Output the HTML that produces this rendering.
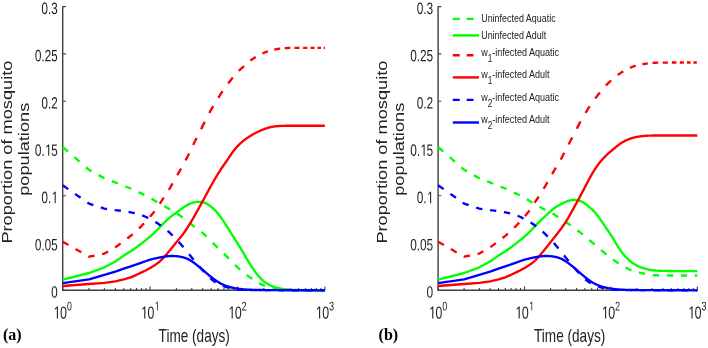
<!DOCTYPE html>
<html><head><meta charset="utf-8"><title>Mosquito population proportions</title>
<style>html,body{margin:0;padding:0;background:#fff;width:708px;height:348px;overflow:hidden}svg{display:block;will-change:transform;filter:blur(0.35px)}</style>
</head><body>
<svg width="708" height="348" viewBox="0 0 708 348">
<rect width="708" height="348" fill="#ffffff"/>
<defs><path id="g0" d="M1059 705Q1059 352 934.5 166.0Q810 -20 567 -20Q324 -20 202.0 165.0Q80 350 80 705Q80 1068 198.5 1249.0Q317 1430 573 1430Q822 1430 940.5 1247.0Q1059 1064 1059 705ZM876 705Q876 1010 805.5 1147.0Q735 1284 573 1284Q407 1284 334.5 1149.0Q262 1014 262 705Q262 405 335.5 266.0Q409 127 569 127Q728 127 802.0 269.0Q876 411 876 705Z"/><path id="g1" d="M615 0V1237L297 1010V1180L630 1409H796V0Z"/><path id="g2" d="M103 0V127Q154 244 227.5 333.5Q301 423 382.0 495.5Q463 568 542.5 630.0Q622 692 686.0 754.0Q750 816 789.5 884.0Q829 952 829 1038Q829 1154 761.0 1218.0Q693 1282 572 1282Q457 1282 382.5 1219.5Q308 1157 295 1044L111 1061Q131 1230 254.5 1330.0Q378 1430 572 1430Q785 1430 899.5 1329.5Q1014 1229 1014 1044Q1014 962 976.5 881.0Q939 800 865.0 719.0Q791 638 582 468Q467 374 399.0 298.5Q331 223 301 153H1036V0Z"/><path id="g3" d="M1049 389Q1049 194 925.0 87.0Q801 -20 571 -20Q357 -20 229.5 76.5Q102 173 78 362L264 379Q300 129 571 129Q707 129 784.5 196.0Q862 263 862 395Q862 510 773.5 574.5Q685 639 518 639H416V795H514Q662 795 743.5 859.5Q825 924 825 1038Q825 1151 758.5 1216.5Q692 1282 561 1282Q442 1282 368.5 1221.0Q295 1160 283 1049L102 1063Q122 1236 245.5 1333.0Q369 1430 563 1430Q775 1430 892.5 1331.5Q1010 1233 1010 1057Q1010 922 934.5 837.5Q859 753 715 723V719Q873 702 961.0 613.0Q1049 524 1049 389Z"/><path id="g5" d="M1053 459Q1053 236 920.5 108.0Q788 -20 553 -20Q356 -20 235.0 66.0Q114 152 82 315L264 336Q321 127 557 127Q702 127 784.0 214.5Q866 302 866 455Q866 588 783.5 670.0Q701 752 561 752Q488 752 425.0 729.0Q362 706 299 651H123L170 1409H971V1256H334L307 809Q424 899 598 899Q806 899 929.5 777.0Q1053 655 1053 459Z"/><path id="gd" d="M187 0V219H382V0Z"/></defs>
<g font-family="Liberation Sans, sans-serif" fill="#222222">
<path d="M62.7,6.32 L62.7,290.3 L324.90,290.3" fill="none" stroke="#404040" stroke-width="1.4"/>
<path d="M62.7,290.30 h3.2 M62.7,243.02 h3.2 M62.7,195.74 h3.2 M62.7,148.46 h3.2 M62.7,101.18 h3.2 M62.7,53.90 h3.2 M62.7,6.62 h3.2 M62.70,290.3 v-3.8 M150.10,290.3 v-3.8 M237.50,290.3 v-3.8 M324.90,290.3 v-3.8 M89.01,290.3 v-2.2 M104.40,290.3 v-2.2 M115.32,290.3 v-2.2 M123.79,290.3 v-2.2 M130.71,290.3 v-2.2 M136.56,290.3 v-2.2 M141.63,290.3 v-2.2 M146.10,290.3 v-2.2 M176.41,290.3 v-2.2 M191.80,290.3 v-2.2 M202.72,290.3 v-2.2 M211.19,290.3 v-2.2 M218.11,290.3 v-2.2 M223.96,290.3 v-2.2 M229.03,290.3 v-2.2 M233.50,290.3 v-2.2 M263.81,290.3 v-2.2 M279.20,290.3 v-2.2 M290.12,290.3 v-2.2 M298.59,290.3 v-2.2 M305.51,290.3 v-2.2 M311.36,290.3 v-2.2 M316.43,290.3 v-2.2 M320.90,290.3 v-2.2" fill="none" stroke="#404040" stroke-width="1.1"/>
<path d="M438.1,6.32 L438.1,290.3 L697.30,290.3" fill="none" stroke="#404040" stroke-width="1.4"/>
<path d="M438.1,290.30 h3.2 M438.1,243.02 h3.2 M438.1,195.74 h3.2 M438.1,148.46 h3.2 M438.1,101.18 h3.2 M438.1,53.90 h3.2 M438.1,6.62 h3.2 M438.10,290.3 v-3.8 M524.50,290.3 v-3.8 M610.90,290.3 v-3.8 M697.30,290.3 v-3.8 M464.11,290.3 v-2.2 M479.32,290.3 v-2.2 M490.12,290.3 v-2.2 M498.49,290.3 v-2.2 M505.33,290.3 v-2.2 M511.12,290.3 v-2.2 M516.13,290.3 v-2.2 M520.55,290.3 v-2.2 M550.51,290.3 v-2.2 M565.72,290.3 v-2.2 M576.52,290.3 v-2.2 M584.89,290.3 v-2.2 M591.73,290.3 v-2.2 M597.52,290.3 v-2.2 M602.53,290.3 v-2.2 M606.95,290.3 v-2.2 M636.91,290.3 v-2.2 M652.12,290.3 v-2.2 M662.92,290.3 v-2.2 M671.29,290.3 v-2.2 M678.13,290.3 v-2.2 M683.92,290.3 v-2.2 M688.93,290.3 v-2.2 M693.35,290.3 v-2.2" fill="none" stroke="#404040" stroke-width="1.1"/>
<path d="M62.70,147.00 L67.96,151.55 M74.38,157.12 L79.63,161.67 M86.06,167.24 L89.01,169.80 L91.55,171.20 M98.64,175.12 L104.40,178.30 L104.45,178.32 M111.84,181.10 L115.32,182.40 L117.87,183.48 M125.21,186.51 L130.71,188.50 L131.26,188.75 M138.51,192.12 L141.63,193.60 L144.44,194.92 M151.57,198.69 L151.60,198.70 L152.10,199.01 L152.60,199.33 L153.10,199.64 L153.60,199.96 L154.10,200.27 L154.60,200.58 L155.10,200.89 L155.60,201.19 L156.10,201.49 L156.60,201.79 L157.10,202.08 L157.28,202.18 M164.36,206.14 L164.60,206.27 L165.10,206.56 L165.60,206.84 L166.10,207.13 L166.60,207.41 L167.10,207.70 L167.60,207.99 L168.10,208.29 L168.60,208.58 L169.10,208.88 L169.60,209.17 L170.10,209.47 L170.11,209.48 M177.09,213.74 L177.10,213.74 L177.60,214.06 L178.10,214.38 L178.60,214.71 L179.10,215.04 L179.60,215.37 L180.10,215.71 L180.60,216.05 L181.10,216.39 L181.60,216.74 L182.10,217.10 L182.60,217.46 L182.69,217.52 M189.30,222.69 L189.60,222.93 L190.10,223.34 L190.60,223.74 L191.10,224.15 L191.60,224.55 L192.10,224.96 L192.60,225.36 L193.10,225.75 L193.60,226.15 L194.10,226.54 L194.60,226.93 L194.68,226.99 M201.38,231.95 L201.60,232.12 L202.10,232.52 L202.60,232.93 L203.10,233.35 L203.60,233.78 L204.10,234.22 L204.60,234.68 L205.10,235.14 L205.60,235.61 L206.10,236.09 L206.60,236.58 M212.69,242.75 L213.10,243.16 L213.60,243.66 L214.10,244.16 L214.60,244.66 L215.10,245.15 L215.60,245.65 L216.10,246.14 L216.60,246.63 L217.10,247.11 L217.60,247.60 L217.72,247.72 M223.93,253.70 L224.10,253.87 L224.60,254.36 L225.10,254.86 L225.60,255.36 L226.10,255.87 L226.60,256.38 L227.10,256.89 L227.60,257.41 L228.10,257.93 L228.60,258.45 L228.90,258.77 M234.99,264.96 L235.10,265.06 L235.60,265.54 L236.10,266.00 L236.60,266.46 L237.10,266.91 L237.60,267.36 L238.10,267.80 L238.60,268.23 L239.10,268.66 L239.60,269.09 L240.10,269.52 L240.20,269.60 M246.72,274.97 L247.10,275.27 L247.60,275.64 L248.10,276.02 L248.60,276.38 L249.10,276.74 L249.60,277.09 L250.10,277.44 L250.60,277.78 L251.10,278.12 L251.60,278.46 L252.10,278.79 L252.26,278.89 M259.20,283.24 L259.60,283.45 L260.10,283.72 L260.60,283.97 L261.10,284.22 L261.60,284.45 L262.10,284.68 L262.60,284.90 L263.10,285.11 L263.60,285.32 L264.10,285.51 L264.60,285.71 L265.10,285.89 L265.15,285.91 M272.65,288.16 L273.10,288.26 L273.60,288.37 L274.10,288.46 L274.60,288.56 L275.10,288.65 L275.60,288.73 L276.10,288.81 L276.60,288.88 L277.10,288.95 L277.60,289.02 L278.10,289.08 L278.60,289.14 L278.89,289.17 M286.57,289.77 L286.60,289.77 L287.10,289.80 L287.60,289.82 L288.10,289.84 L288.60,289.87 L289.10,289.89 L289.60,289.91 L290.10,289.93 L290.60,289.95 L291.10,289.97 L291.60,289.99 L292.10,290.01 L292.60,290.03 L292.86,290.04 M300.55,290.20 L300.60,290.20 L301.10,290.20 L301.60,290.21 L302.10,290.21 L302.60,290.22 L303.10,290.22 L303.60,290.22 L304.10,290.23 L304.60,290.23 L305.10,290.23 L305.60,290.24 L306.10,290.24 L306.60,290.24 L306.84,290.25 M314.53,290.28 L314.60,290.28 L315.10,290.28 L315.60,290.28 L316.10,290.29 L316.60,290.29 L317.10,290.29 L317.60,290.29 L318.10,290.29 L318.60,290.29 L319.10,290.29 L319.60,290.29 L320.10,290.29 L320.60,290.30 L320.82,290.30" fill="none" stroke="#00ff00" stroke-width="2.35" stroke-linejoin="round"/>
<path d="M62.70,279.60 L89.01,273.00 L104.40,267.30 L115.32,261.50 L123.79,255.60 L130.71,251.30 L136.56,247.20 L141.63,243.40 L146.10,239.80 L150.10,236.60 L150.60,236.18 L151.10,235.76 L151.60,235.33 L152.10,234.89 L152.60,234.45 L153.10,233.99 L153.60,233.52 L154.10,233.04 L154.60,232.55 L155.10,232.05 L155.60,231.54 L156.10,231.04 L156.60,230.53 L157.10,230.02 L157.60,229.50 L158.10,228.98 L158.60,228.46 L159.10,227.94 L159.60,227.41 L160.10,226.89 L160.60,226.37 L161.10,225.85 L161.60,225.33 L162.10,224.82 L162.60,224.30 L163.10,223.79 L163.60,223.28 L164.10,222.78 L164.60,222.28 L165.10,221.79 L165.60,221.30 L166.10,220.82 L166.60,220.35 L167.10,219.88 L167.60,219.43 L168.10,218.98 L168.60,218.54 L169.10,218.12 L169.60,217.70 L170.10,217.29 L170.60,216.89 L171.10,216.49 L171.60,216.10 L172.10,215.72 L172.60,215.34 L173.10,214.96 L173.60,214.59 L174.10,214.22 L174.60,213.85 L175.10,213.47 L175.60,213.10 L176.10,212.73 L176.60,212.36 L177.10,211.99 L177.60,211.61 L178.10,211.24 L178.60,210.87 L179.10,210.50 L179.60,210.14 L180.10,209.77 L180.60,209.41 L181.10,209.05 L181.60,208.70 L182.10,208.35 L182.60,208.00 L183.10,207.66 L183.60,207.32 L184.10,206.99 L184.60,206.66 L185.10,206.34 L185.60,206.03 L186.10,205.73 L186.60,205.44 L187.10,205.15 L187.60,204.88 L188.10,204.62 L188.60,204.37 L189.10,204.13 L189.60,203.91 L190.10,203.69 L190.60,203.48 L191.10,203.29 L191.60,203.10 L192.10,202.93 L192.60,202.77 L193.10,202.62 L193.60,202.48 L194.10,202.35 L194.60,202.23 L195.10,202.13 L195.60,202.05 L196.10,201.98 L196.60,201.92 L197.10,201.87 L197.60,201.84 L198.10,201.82 L198.60,201.81 L199.10,201.81 L199.60,201.81 L200.10,201.83 L200.60,201.87 L201.10,201.91 L201.60,201.97 L202.10,202.04 L202.60,202.13 L203.10,202.24 L203.60,202.37 L204.10,202.52 L204.60,202.70 L205.10,202.90 L205.60,203.12 L206.10,203.36 L206.60,203.63 L207.10,203.91 L207.60,204.21 L208.10,204.53 L208.60,204.86 L209.10,205.21 L209.60,205.57 L210.10,205.94 L210.60,206.32 L211.10,206.72 L211.60,207.13 L212.10,207.55 L212.60,207.99 L213.10,208.44 L213.60,208.90 L214.10,209.37 L214.60,209.86 L215.10,210.36 L215.60,210.88 L216.10,211.41 L216.60,211.96 L217.10,212.53 L217.60,213.12 L218.10,213.72 L218.60,214.35 L219.10,214.99 L219.60,215.65 L220.10,216.33 L220.60,217.03 L221.10,217.74 L221.60,218.46 L222.10,219.20 L222.60,219.94 L223.10,220.69 L223.60,221.44 L224.10,222.20 L224.60,222.96 L225.10,223.72 L225.60,224.49 L226.10,225.25 L226.60,226.02 L227.10,226.79 L227.60,227.57 L228.10,228.35 L228.60,229.14 L229.10,229.93 L229.60,230.72 L230.10,231.52 L230.60,232.32 L231.10,233.13 L231.60,233.94 L232.10,234.75 L232.60,235.55 L233.10,236.36 L233.60,237.17 L234.10,237.97 L234.60,238.77 L235.10,239.57 L235.60,240.36 L236.10,241.15 L236.60,241.93 L237.10,242.72 L237.60,243.50 L238.10,244.29 L238.60,245.08 L239.10,245.87 L239.60,246.67 L240.10,247.48 L240.60,248.30 L241.10,249.12 L241.60,249.95 L242.10,250.79 L242.60,251.64 L243.10,252.50 L243.60,253.36 L244.10,254.22 L244.60,255.08 L245.10,255.94 L245.60,256.80 L246.10,257.66 L246.60,258.51 L247.10,259.36 L247.60,260.20 L248.10,261.04 L248.60,261.86 L249.10,262.68 L249.60,263.49 L250.10,264.29 L250.60,265.08 L251.10,265.86 L251.60,266.63 L252.10,267.39 L252.60,268.14 L253.10,268.88 L253.60,269.60 L254.10,270.32 L254.60,271.02 L255.10,271.71 L255.60,272.39 L256.10,273.05 L256.60,273.71 L257.10,274.34 L257.60,274.96 L258.10,275.57 L258.60,276.16 L259.10,276.74 L259.60,277.29 L260.10,277.83 L260.60,278.35 L261.10,278.85 L261.60,279.33 L262.10,279.80 L262.60,280.25 L263.10,280.68 L263.60,281.10 L264.10,281.50 L264.60,281.88 L265.10,282.26 L265.60,282.61 L266.10,282.96 L266.60,283.29 L267.10,283.61 L267.60,283.92 L268.10,284.22 L268.60,284.51 L269.10,284.78 L269.60,285.05 L270.10,285.30 L270.60,285.54 L271.10,285.77 L271.60,285.99 L272.10,286.20 L272.60,286.40 L273.10,286.59 L273.60,286.77 L274.10,286.94 L274.60,287.10 L275.10,287.26 L275.60,287.40 L276.10,287.54 L276.60,287.67 L277.10,287.80 L277.60,287.93 L278.10,288.04 L278.60,288.16 L279.10,288.27 L279.60,288.37 L280.10,288.47 L280.60,288.57 L281.10,288.66 L281.60,288.75 L282.10,288.84 L282.60,288.92 L283.10,289.00 L283.60,289.07 L284.10,289.14 L284.60,289.21 L285.10,289.27 L285.60,289.33 L286.10,289.38 L286.60,289.43 L287.10,289.48 L287.60,289.53 L288.10,289.58 L288.60,289.62 L289.10,289.66 L289.60,289.70 L290.10,289.73 L290.60,289.77 L291.10,289.80 L291.60,289.83 L292.10,289.86 L292.60,289.88 L293.10,289.91 L293.60,289.93 L294.10,289.95 L294.60,289.97 L295.10,289.98 L295.60,290.00 L296.10,290.01 L296.60,290.02 L297.10,290.03 L297.60,290.05 L298.10,290.06 L298.60,290.06 L299.10,290.07 L299.60,290.08 L300.10,290.09 L300.60,290.10 L301.10,290.11 L301.60,290.12 L302.10,290.12 L302.60,290.13 L303.10,290.14 L303.60,290.15 L304.10,290.15 L304.60,290.16 L305.10,290.17 L305.60,290.17 L306.10,290.18 L306.60,290.19 L307.10,290.19 L307.60,290.20 L308.10,290.20 L308.60,290.21 L309.10,290.21 L309.60,290.22 L310.10,290.22 L310.60,290.23 L311.10,290.23 L311.60,290.24 L312.10,290.24 L312.60,290.25 L313.10,290.25 L313.60,290.26 L314.10,290.26 L314.60,290.26 L315.10,290.27 L315.60,290.27 L316.10,290.27 L316.60,290.27 L317.10,290.28 L317.60,290.28 L318.10,290.28 L318.60,290.28 L319.10,290.29 L319.60,290.29 L320.10,290.29 L320.60,290.29 L321.10,290.29 L321.60,290.29 L322.10,290.30 L322.60,290.30 L323.10,290.30 L323.60,290.30 L324.10,290.30 L324.60,290.30 L324.90,290.30" fill="none" stroke="#00ff00" stroke-width="2.35" stroke-linejoin="round"/>
<path d="M62.70,241.70 L68.47,244.99 M75.53,249.02 L81.31,252.31 M88.36,256.33 L89.01,256.70 L94.53,255.59 M102.14,254.06 L104.40,253.60 L108.07,251.51 M115.14,247.50 L115.32,247.40 L120.64,243.50 M127.31,238.45 L130.71,235.80 L132.65,234.08 M138.97,228.32 L141.63,225.80 L143.99,223.32 M149.89,216.84 L150.10,216.60 L150.60,216.03 L151.10,215.46 L151.60,214.89 L152.10,214.31 L152.60,213.72 L153.10,213.11 L153.60,212.49 L154.10,211.85 L154.54,211.26 M159.67,203.73 L160.10,203.09 L160.60,202.35 L161.10,201.61 L161.60,200.88 L162.10,200.16 L162.60,199.43 L163.10,198.70 L163.60,197.98 L163.88,197.57 M168.84,189.84 L169.10,189.42 L169.60,188.59 L170.10,187.76 L170.60,186.92 L171.10,186.07 L171.60,185.22 L172.10,184.37 L172.60,183.51 L172.71,183.31 M177.32,175.21 L177.60,174.71 L178.10,173.83 L178.60,172.94 L179.10,172.05 L179.60,171.16 L180.10,170.27 L180.60,169.38 L181.06,168.55 M185.57,160.35 L185.60,160.30 L186.10,159.36 L186.60,158.41 L187.10,157.45 L187.60,156.48 L188.10,155.49 L188.60,154.50 L189.09,153.49 M193.17,144.91 L193.60,144.01 L194.10,142.98 L194.60,141.97 L195.10,140.96 L195.60,139.97 L196.10,138.99 L196.60,138.02 L196.62,137.98 M201.03,129.25 L201.10,129.12 L201.60,128.12 L202.10,127.11 L202.60,126.11 L203.10,125.12 L203.60,124.12 L204.10,123.13 L204.60,122.14 L204.72,121.91 M209.30,113.04 L209.60,112.48 L210.10,111.56 L210.60,110.67 L211.10,109.78 L211.60,108.91 L212.10,108.05 L212.60,107.21 L213.10,106.37 L213.29,106.06 M218.36,97.78 L218.60,97.40 L219.10,96.60 L219.60,95.81 L220.10,95.02 L220.60,94.24 L221.10,93.46 L221.60,92.70 L222.10,91.94 L222.60,91.20 L222.62,91.17 M228.12,83.52 L228.60,82.89 L229.10,82.24 L229.60,81.59 L230.10,80.94 L230.60,80.30 L231.10,79.66 L231.60,79.02 L232.10,78.39 L232.60,77.77 L232.80,77.53 M238.82,70.79 L239.10,70.52 L239.60,70.05 L240.10,69.58 L240.60,69.13 L241.10,68.68 L241.60,68.24 L242.10,67.81 L242.60,67.38 L243.10,66.95 L243.60,66.52 L244.07,66.11 M250.41,60.69 L250.60,60.54 L251.10,60.15 L251.60,59.77 L252.10,59.41 L252.60,59.05 L253.10,58.70 L253.60,58.36 L254.10,58.03 L254.60,57.70 L255.10,57.39 L255.60,57.08 L255.76,56.99 M262.43,53.52 L262.60,53.44 L263.10,53.22 L263.60,52.99 L264.10,52.78 L264.60,52.56 L265.10,52.35 L265.60,52.15 L266.10,51.95 L266.60,51.76 L267.10,51.58 L267.60,51.41 L267.89,51.31 M274.23,49.64 L274.60,49.57 L275.10,49.47 L275.60,49.37 L276.10,49.27 L276.60,49.18 L277.10,49.09 L277.60,49.01 L278.10,48.92 L278.60,48.85 L279.10,48.77 L279.60,48.70 L280.10,48.63 L280.23,48.62 M284.79,48.16 L285.10,48.14 L285.60,48.11 L286.10,48.08 L286.60,48.05 L287.10,48.03 L287.60,48.00 L288.10,47.98 L288.60,47.96 L289.10,47.95 L289.60,47.93 L290.10,47.92 L290.31,47.91 M294.46,47.83 L294.60,47.83 L295.10,47.82 L295.60,47.82 L296.10,47.81 L296.60,47.81 L297.10,47.81 L297.60,47.81 L298.10,47.80 L298.60,47.80 L299.10,47.80 L299.45,47.80 M303.09,47.80 L303.60,47.80 L304.10,47.80 L304.60,47.80 L305.10,47.80 L305.60,47.80 L306.10,47.80 L306.60,47.80 L307.10,47.80 L307.37,47.80 M310.58,47.80 L311.10,47.80 L311.60,47.80 L312.10,47.80 L312.60,47.80 L313.10,47.80 L313.60,47.80 L314.10,47.80 L314.48,47.80 M317.42,47.80 L317.60,47.80 L318.10,47.80 L318.60,47.80 L319.10,47.80 L319.60,47.80 L320.10,47.80 L320.60,47.80 L320.97,47.80 M323.63,47.80 L324.10,47.80 L324.60,47.80 L324.90,47.80" fill="none" stroke="#ff0000" stroke-width="2.35" stroke-linejoin="round"/>
<path d="M62.70,286.00 L89.01,284.00 L104.40,282.80 L115.32,281.30 L123.79,279.30 L130.71,277.30 L136.56,274.80 L141.63,272.40 L146.10,270.20 L150.10,268.00 L150.60,267.71 L151.10,267.43 L151.60,267.14 L152.10,266.84 L152.60,266.55 L153.10,266.24 L153.60,265.92 L154.10,265.60 L154.60,265.27 L155.10,264.94 L155.60,264.59 L156.10,264.24 L156.60,263.89 L157.10,263.53 L157.60,263.16 L158.10,262.77 L158.60,262.38 L159.10,261.97 L159.60,261.55 L160.10,261.11 L160.60,260.66 L161.10,260.20 L161.60,259.72 L162.10,259.22 L162.60,258.71 L163.10,258.19 L163.60,257.65 L164.10,257.10 L164.60,256.55 L165.10,255.98 L165.60,255.41 L166.10,254.83 L166.60,254.25 L167.10,253.66 L167.60,253.07 L168.10,252.47 L168.60,251.87 L169.10,251.27 L169.60,250.66 L170.10,250.05 L170.60,249.44 L171.10,248.83 L171.60,248.21 L172.10,247.59 L172.60,246.97 L173.10,246.35 L173.60,245.72 L174.10,245.10 L174.60,244.47 L175.10,243.85 L175.60,243.23 L176.10,242.61 L176.60,242.00 L177.10,241.38 L177.60,240.78 L178.10,240.17 L178.60,239.57 L179.10,238.97 L179.60,238.37 L180.10,237.77 L180.60,237.16 L181.10,236.55 L181.60,235.93 L182.10,235.30 L182.60,234.66 L183.10,234.00 L183.60,233.33 L184.10,232.65 L184.60,231.95 L185.10,231.24 L185.60,230.51 L186.10,229.77 L186.60,229.02 L187.10,228.25 L187.60,227.48 L188.10,226.70 L188.60,225.90 L189.10,225.10 L189.60,224.29 L190.10,223.47 L190.60,222.64 L191.10,221.81 L191.60,220.96 L192.10,220.11 L192.60,219.26 L193.10,218.39 L193.60,217.53 L194.10,216.65 L194.60,215.77 L195.10,214.88 L195.60,213.99 L196.10,213.09 L196.60,212.19 L197.10,211.28 L197.60,210.38 L198.10,209.47 L198.60,208.56 L199.10,207.65 L199.60,206.74 L200.10,205.83 L200.60,204.92 L201.10,204.01 L201.60,203.10 L202.10,202.19 L202.60,201.28 L203.10,200.37 L203.60,199.46 L204.10,198.55 L204.60,197.63 L205.10,196.71 L205.60,195.79 L206.10,194.87 L206.60,193.94 L207.10,193.01 L207.60,192.08 L208.10,191.15 L208.60,190.23 L209.10,189.30 L209.60,188.38 L210.10,187.46 L210.60,186.55 L211.10,185.64 L211.60,184.74 L212.10,183.85 L212.60,182.96 L213.10,182.09 L213.60,181.22 L214.10,180.36 L214.60,179.50 L215.10,178.65 L215.60,177.81 L216.10,176.98 L216.60,176.15 L217.10,175.33 L217.60,174.51 L218.10,173.70 L218.60,172.90 L219.10,172.10 L219.60,171.31 L220.10,170.52 L220.60,169.75 L221.10,168.98 L221.60,168.23 L222.10,167.48 L222.60,166.74 L223.10,166.01 L223.60,165.29 L224.10,164.58 L224.60,163.87 L225.10,163.16 L225.60,162.45 L226.10,161.74 L226.60,161.03 L227.10,160.30 L227.60,159.57 L228.10,158.83 L228.60,158.08 L229.10,157.32 L229.60,156.56 L230.10,155.80 L230.60,155.04 L231.10,154.28 L231.60,153.54 L232.10,152.82 L232.60,152.11 L233.10,151.43 L233.60,150.77 L234.10,150.13 L234.60,149.51 L235.10,148.91 L235.60,148.33 L236.10,147.76 L236.60,147.21 L237.10,146.67 L237.60,146.15 L238.10,145.63 L238.60,145.13 L239.10,144.63 L239.60,144.14 L240.10,143.67 L240.60,143.20 L241.10,142.75 L241.60,142.30 L242.10,141.87 L242.60,141.44 L243.10,141.03 L243.60,140.62 L244.10,140.23 L244.60,139.85 L245.10,139.47 L245.60,139.10 L246.10,138.75 L246.60,138.40 L247.10,138.06 L247.60,137.72 L248.10,137.39 L248.60,137.06 L249.10,136.74 L249.60,136.42 L250.10,136.11 L250.60,135.80 L251.10,135.50 L251.60,135.19 L252.10,134.90 L252.60,134.60 L253.10,134.31 L253.60,134.03 L254.10,133.75 L254.60,133.48 L255.10,133.21 L255.60,132.94 L256.10,132.68 L256.60,132.43 L257.10,132.18 L257.60,131.94 L258.10,131.70 L258.60,131.46 L259.10,131.23 L259.60,131.00 L260.10,130.78 L260.60,130.56 L261.10,130.35 L261.60,130.14 L262.10,129.93 L262.60,129.73 L263.10,129.53 L263.60,129.34 L264.10,129.15 L264.60,128.97 L265.10,128.79 L265.60,128.61 L266.10,128.44 L266.60,128.27 L267.10,128.11 L267.60,127.95 L268.10,127.80 L268.60,127.65 L269.10,127.51 L269.60,127.38 L270.10,127.25 L270.60,127.13 L271.10,127.02 L271.60,126.92 L272.10,126.82 L272.60,126.74 L273.10,126.65 L273.60,126.58 L274.10,126.51 L274.60,126.45 L275.10,126.39 L275.60,126.34 L276.10,126.29 L276.60,126.24 L277.10,126.19 L277.60,126.15 L278.10,126.11 L278.60,126.08 L279.10,126.04 L279.60,126.01 L280.10,125.98 L280.60,125.95 L281.10,125.93 L281.60,125.90 L282.10,125.88 L282.60,125.86 L283.10,125.84 L283.60,125.83 L284.10,125.81 L284.60,125.80 L285.10,125.79 L285.60,125.78 L286.10,125.77 L286.60,125.76 L287.10,125.76 L287.60,125.75 L288.10,125.74 L288.60,125.74 L289.10,125.73 L289.60,125.73 L290.10,125.72 L290.60,125.72 L291.10,125.72 L291.60,125.71 L292.10,125.71 L292.60,125.71 L293.10,125.71 L293.60,125.71 L294.10,125.70 L294.60,125.70 L295.10,125.70 L295.60,125.70 L296.10,125.70 L296.60,125.70 L297.10,125.70 L297.60,125.70 L298.10,125.70 L298.60,125.70 L299.10,125.70 L299.60,125.70 L300.10,125.70 L300.60,125.70 L301.10,125.70 L301.60,125.70 L302.10,125.70 L302.60,125.70 L303.10,125.70 L303.60,125.70 L304.10,125.70 L304.60,125.70 L305.10,125.70 L305.60,125.70 L306.10,125.70 L306.60,125.70 L307.10,125.70 L307.60,125.70 L308.10,125.70 L308.60,125.70 L309.10,125.70 L309.60,125.70 L310.10,125.70 L310.60,125.70 L311.10,125.70 L311.60,125.70 L312.10,125.70 L312.60,125.70 L313.10,125.70 L313.60,125.70 L314.10,125.70 L314.60,125.70 L315.10,125.70 L315.60,125.70 L316.10,125.70 L316.60,125.70 L317.10,125.70 L317.60,125.70 L318.10,125.70 L318.60,125.70 L319.10,125.70 L319.60,125.70 L320.10,125.70 L320.60,125.70 L321.10,125.70 L321.60,125.70 L322.10,125.70 L322.60,125.70 L323.10,125.70 L323.60,125.70 L324.10,125.70 L324.60,125.70 L324.90,125.70" fill="none" stroke="#ff0000" stroke-width="2.35" stroke-linejoin="round"/>
<path d="M62.70,185.20 L68.26,189.09 M75.05,193.84 L80.60,197.72 M87.40,202.47 L89.01,203.60 L93.35,205.01 M100.81,207.43 L104.40,208.60 L106.98,208.98 M114.63,210.10 L115.32,210.20 L120.90,210.79 M128.54,211.92 L130.71,212.30 L134.75,213.20 M142.25,215.45 L146.10,217.00 L148.19,218.15 M155.32,221.92 L155.60,222.08 L156.10,222.40 L156.60,222.71 L157.10,223.02 L157.60,223.35 L158.10,223.68 L158.60,224.02 L159.10,224.37 L159.60,224.72 L160.10,225.07 L160.60,225.43 L160.93,225.67 M167.56,230.81 L167.60,230.85 L168.10,231.29 L168.60,231.74 L169.10,232.20 L169.60,232.67 L170.10,233.16 L170.60,233.64 L171.10,234.14 L171.60,234.64 L172.10,235.14 L172.60,235.64 L172.64,235.68 M178.71,241.90 L179.10,242.32 L179.60,242.87 L180.10,243.42 L180.60,243.99 L181.10,244.56 L181.60,245.13 L182.10,245.72 L182.60,246.30 L183.10,246.90 L183.46,247.33 M189.08,254.24 L189.10,254.26 L189.60,254.88 L190.10,255.49 L190.60,256.10 L191.10,256.70 L191.60,257.31 L192.10,257.91 L192.60,258.51 L193.10,259.11 L193.60,259.71 L193.71,259.84 M199.42,266.62 L199.60,266.82 L200.10,267.40 L200.60,267.98 L201.10,268.55 L201.60,269.12 L202.10,269.68 L202.60,270.24 L203.10,270.79 L203.60,271.34 L204.10,271.89 L204.20,272.00 M210.28,278.21 L210.60,278.51 L211.10,278.95 L211.60,279.38 L212.10,279.80 L212.60,280.20 L213.10,280.59 L213.60,280.96 L214.10,281.32 L214.60,281.67 L215.10,282.00 L215.60,282.32 L215.70,282.38 M222.88,285.97 L223.10,286.06 L223.60,286.24 L224.10,286.42 L224.60,286.59 L225.10,286.75 L225.60,286.91 L226.10,287.06 L226.60,287.20 L227.10,287.34 L227.60,287.47 L228.10,287.60 L228.60,287.73 L229.01,287.83 M236.63,289.21 L237.10,289.27 L237.60,289.34 L238.10,289.40 L238.60,289.46 L239.10,289.52 L239.60,289.58 L240.10,289.63 L240.60,289.68 L241.10,289.73 L241.60,289.77 L242.10,289.81 L242.60,289.84 L242.90,289.86 M250.59,290.05 L250.60,290.05 L251.10,290.05 L251.60,290.06 L252.10,290.06 L252.60,290.07 L253.10,290.07 L253.60,290.07 L254.10,290.08 L254.60,290.08 L255.10,290.09 L255.60,290.09 L256.10,290.09 L256.60,290.10 L256.89,290.10 M264.58,290.15 L264.60,290.15 L265.10,290.15 L265.60,290.16 L266.10,290.16 L266.60,290.16 L267.10,290.17 L267.60,290.17 L268.10,290.17 L268.60,290.17 L269.10,290.18 L269.60,290.18 L270.10,290.18 L270.60,290.18 L270.87,290.19 M278.56,290.22 L278.60,290.22 L279.10,290.22 L279.60,290.23 L280.10,290.23 L280.60,290.23 L281.10,290.23 L281.60,290.23 L282.10,290.24 L282.60,290.24 L283.10,290.24 L283.60,290.24 L284.10,290.24 L284.60,290.24 L284.85,290.24 M292.54,290.27 L292.60,290.27 L293.10,290.27 L293.60,290.27 L294.10,290.27 L294.60,290.27 L295.10,290.27 L295.60,290.27 L296.10,290.27 L296.60,290.28 L297.10,290.28 L297.60,290.28 L298.10,290.28 L298.60,290.28 L298.84,290.28 M306.53,290.29 L306.60,290.29 L307.10,290.29 L307.60,290.29 L308.10,290.29 L308.60,290.29 L309.10,290.29 L309.60,290.29 L310.10,290.29 L310.60,290.29 L311.10,290.29 L311.60,290.30 L312.10,290.30 L312.60,290.30 L312.82,290.30 M320.51,290.30 L320.60,290.30 L321.10,290.30 L321.60,290.30 L322.10,290.30 L322.60,290.30 L323.10,290.30 L323.60,290.30 L324.10,290.30 L324.60,290.30 L324.90,290.30" fill="none" stroke="#0000ff" stroke-width="2.35" stroke-linejoin="round"/>
<path d="M62.70,283.10 L89.01,279.40 L104.40,274.90 L115.32,271.60 L123.79,268.70 L130.71,266.30 L136.56,264.40 L141.63,262.60 L146.10,261.00 L150.10,259.70 L150.60,259.56 L151.10,259.43 L151.60,259.30 L152.10,259.17 L152.60,259.04 L153.10,258.92 L153.60,258.80 L154.10,258.68 L154.60,258.57 L155.10,258.46 L155.60,258.35 L156.10,258.24 L156.60,258.13 L157.10,258.03 L157.60,257.92 L158.10,257.82 L158.60,257.72 L159.10,257.62 L159.60,257.52 L160.10,257.42 L160.60,257.32 L161.10,257.23 L161.60,257.14 L162.10,257.04 L162.60,256.95 L163.10,256.87 L163.60,256.78 L164.10,256.70 L164.60,256.62 L165.10,256.55 L165.60,256.47 L166.10,256.41 L166.60,256.35 L167.10,256.29 L167.60,256.24 L168.10,256.19 L168.60,256.14 L169.10,256.11 L169.60,256.07 L170.10,256.04 L170.60,256.02 L171.10,256.00 L171.60,255.99 L172.10,255.99 L172.60,255.99 L173.10,256.00 L173.60,256.01 L174.10,256.03 L174.60,256.06 L175.10,256.09 L175.60,256.12 L176.10,256.16 L176.60,256.21 L177.10,256.26 L177.60,256.32 L178.10,256.38 L178.60,256.45 L179.10,256.52 L179.60,256.60 L180.10,256.68 L180.60,256.78 L181.10,256.87 L181.60,256.98 L182.10,257.09 L182.60,257.22 L183.10,257.34 L183.60,257.48 L184.10,257.63 L184.60,257.78 L185.10,257.95 L185.60,258.13 L186.10,258.31 L186.60,258.51 L187.10,258.72 L187.60,258.94 L188.10,259.17 L188.60,259.41 L189.10,259.67 L189.60,259.94 L190.10,260.23 L190.60,260.52 L191.10,260.83 L191.60,261.15 L192.10,261.49 L192.60,261.83 L193.10,262.18 L193.60,262.54 L194.10,262.91 L194.60,263.28 L195.10,263.66 L195.60,264.04 L196.10,264.42 L196.60,264.81 L197.10,265.20 L197.60,265.59 L198.10,265.98 L198.60,266.38 L199.10,266.78 L199.60,267.19 L200.10,267.60 L200.60,268.02 L201.10,268.44 L201.60,268.86 L202.10,269.29 L202.60,269.72 L203.10,270.15 L203.60,270.59 L204.10,271.03 L204.60,271.47 L205.10,271.91 L205.60,272.35 L206.10,272.78 L206.60,273.21 L207.10,273.64 L207.60,274.06 L208.10,274.48 L208.60,274.90 L209.10,275.31 L209.60,275.71 L210.10,276.12 L210.60,276.51 L211.10,276.91 L211.60,277.30 L212.10,277.69 L212.60,278.07 L213.10,278.46 L213.60,278.83 L214.10,279.21 L214.60,279.58 L215.10,279.94 L215.60,280.30 L216.10,280.66 L216.60,281.00 L217.10,281.34 L217.60,281.67 L218.10,281.98 L218.60,282.29 L219.10,282.59 L219.60,282.88 L220.10,283.15 L220.60,283.42 L221.10,283.68 L221.60,283.93 L222.10,284.17 L222.60,284.41 L223.10,284.63 L223.60,284.85 L224.10,285.06 L224.60,285.27 L225.10,285.47 L225.60,285.67 L226.10,285.85 L226.60,286.04 L227.10,286.21 L227.60,286.38 L228.10,286.54 L228.60,286.70 L229.10,286.85 L229.60,286.99 L230.10,287.12 L230.60,287.25 L231.10,287.38 L231.60,287.50 L232.10,287.61 L232.60,287.72 L233.10,287.83 L233.60,287.93 L234.10,288.03 L234.60,288.12 L235.10,288.22 L235.60,288.30 L236.10,288.39 L236.60,288.47 L237.10,288.55 L237.60,288.63 L238.10,288.70 L238.60,288.78 L239.10,288.85 L239.60,288.91 L240.10,288.98 L240.60,289.04 L241.10,289.10 L241.60,289.16 L242.10,289.21 L242.60,289.26 L243.10,289.31 L243.60,289.35 L244.10,289.40 L244.60,289.44 L245.10,289.47 L245.60,289.51 L246.10,289.54 L246.60,289.57 L247.10,289.60 L247.60,289.62 L248.10,289.65 L248.60,289.67 L249.10,289.69 L249.60,289.71 L250.10,289.74 L250.60,289.76 L251.10,289.78 L251.60,289.79 L252.10,289.81 L252.60,289.83 L253.10,289.85 L253.60,289.86 L254.10,289.88 L254.60,289.89 L255.10,289.90 L255.60,289.92 L256.10,289.93 L256.60,289.94 L257.10,289.95 L257.60,289.96 L258.10,289.97 L258.60,289.97 L259.10,289.98 L259.60,289.99 L260.10,290.00 L260.60,290.00 L261.10,290.01 L261.60,290.01 L262.10,290.02 L262.60,290.02 L263.10,290.03 L263.60,290.03 L264.10,290.04 L264.60,290.04 L265.10,290.05 L265.60,290.05 L266.10,290.06 L266.60,290.06 L267.10,290.06 L267.60,290.07 L268.10,290.07 L268.60,290.08 L269.10,290.08 L269.60,290.08 L270.10,290.09 L270.60,290.09 L271.10,290.10 L271.60,290.10 L272.10,290.10 L272.60,290.11 L273.10,290.11 L273.60,290.12 L274.10,290.12 L274.60,290.12 L275.10,290.13 L275.60,290.13 L276.10,290.13 L276.60,290.14 L277.10,290.14 L277.60,290.14 L278.10,290.15 L278.60,290.15 L279.10,290.15 L279.60,290.16 L280.10,290.16 L280.60,290.16 L281.10,290.17 L281.60,290.17 L282.10,290.17 L282.60,290.18 L283.10,290.18 L283.60,290.18 L284.10,290.18 L284.60,290.19 L285.10,290.19 L285.60,290.19 L286.10,290.20 L286.60,290.20 L287.10,290.20 L287.60,290.20 L288.10,290.21 L288.60,290.21 L289.10,290.21 L289.60,290.21 L290.10,290.22 L290.60,290.22 L291.10,290.22 L291.60,290.22 L292.10,290.23 L292.60,290.23 L293.10,290.23 L293.60,290.23 L294.10,290.23 L294.60,290.24 L295.10,290.24 L295.60,290.24 L296.10,290.24 L296.60,290.25 L297.10,290.25 L297.60,290.25 L298.10,290.25 L298.60,290.25 L299.10,290.25 L299.60,290.26 L300.10,290.26 L300.60,290.26 L301.10,290.26 L301.60,290.26 L302.10,290.26 L302.60,290.27 L303.10,290.27 L303.60,290.27 L304.10,290.27 L304.60,290.27 L305.10,290.27 L305.60,290.27 L306.10,290.28 L306.60,290.28 L307.10,290.28 L307.60,290.28 L308.10,290.28 L308.60,290.28 L309.10,290.28 L309.60,290.28 L310.10,290.28 L310.60,290.29 L311.10,290.29 L311.60,290.29 L312.10,290.29 L312.60,290.29 L313.10,290.29 L313.60,290.29 L314.10,290.29 L314.60,290.29 L315.10,290.29 L315.60,290.29 L316.10,290.29 L316.60,290.30 L317.10,290.30 L317.60,290.30 L318.10,290.30 L318.60,290.30 L319.10,290.30 L319.60,290.30 L320.10,290.30 L320.60,290.30 L321.10,290.30 L321.60,290.30 L322.10,290.30 L322.60,290.30 L323.10,290.30 L323.60,290.30 L324.10,290.30 L324.60,290.30 L324.90,290.30" fill="none" stroke="#0000ff" stroke-width="2.35" stroke-linejoin="round"/>
<path d="M438.10,147.00 L443.34,151.59 M449.74,157.20 L454.97,161.79 M461.38,167.40 L464.11,169.80 L466.88,171.35 M473.96,175.30 L479.32,178.30 L479.77,178.47 M487.16,181.28 L490.12,182.40 L493.17,183.71 M500.51,186.74 L505.33,188.50 L506.55,189.07 M513.79,192.48 L516.13,193.60 L519.70,195.30 M526.79,199.21 L527.00,199.35 L527.50,199.67 L528.00,199.98 L528.50,200.30 L529.00,200.61 L529.50,200.92 L530.00,201.23 L530.50,201.53 L531.00,201.83 L531.50,202.13 L532.00,202.42 L532.49,202.71 M539.56,206.71 L540.00,206.96 L540.50,207.25 L541.00,207.54 L541.50,207.83 L542.00,208.12 L542.50,208.41 L543.00,208.69 L543.50,208.97 L544.00,209.24 L544.50,209.51 L545.00,209.77 L545.35,209.95 M552.54,213.53 L553.00,213.79 L553.50,214.08 L554.00,214.38 L554.50,214.69 L555.00,215.00 L555.50,215.32 L556.00,215.64 L556.50,215.97 L557.00,216.30 L557.50,216.63 L558.00,216.96 L558.22,217.10 M565.09,221.65 L565.50,221.92 L566.00,222.25 L566.50,222.58 L567.00,222.91 L567.50,223.24 L568.00,223.57 L568.50,223.90 L569.00,224.23 L569.50,224.56 L570.00,224.90 L570.50,225.24 L570.71,225.38 M577.44,230.27 L577.50,230.32 L578.00,230.70 L578.50,231.08 L579.00,231.47 L579.50,231.86 L580.00,232.24 L580.50,232.64 L581.00,233.03 L581.50,233.43 L582.00,233.83 L582.50,234.23 L582.85,234.51 M589.33,239.94 L589.50,240.08 L590.00,240.52 L590.50,240.95 L591.00,241.39 L591.50,241.82 L592.00,242.26 L592.50,242.70 L593.00,243.13 L593.50,243.57 L594.00,244.00 L594.50,244.43 L594.58,244.51 M601.06,249.97 L601.50,250.34 L602.00,250.78 L602.50,251.21 L603.00,251.64 L603.50,252.07 L604.00,252.50 L604.50,252.93 L605.00,253.36 L605.50,253.78 L606.00,254.20 L606.34,254.48 M613.00,259.52 L613.50,259.88 L614.00,260.24 L614.50,260.59 L615.00,260.95 L615.50,261.31 L616.00,261.66 L616.50,262.01 L617.00,262.35 L617.50,262.70 L618.00,263.04 L618.50,263.37 L618.56,263.41 M625.57,267.57 L626.00,267.80 L626.50,268.06 L627.00,268.32 L627.50,268.57 L628.00,268.81 L628.50,269.05 L629.00,269.28 L629.50,269.51 L630.00,269.73 L630.50,269.95 L631.00,270.16 L631.49,270.35 M638.99,272.59 L639.00,272.59 L639.50,272.71 L640.00,272.82 L640.50,272.92 L641.00,273.03 L641.50,273.13 L642.00,273.23 L642.50,273.32 L643.00,273.42 L643.50,273.51 L644.00,273.61 L644.50,273.70 L645.00,273.79 L645.21,273.83 M652.85,275.00 L653.00,275.02 L653.50,275.06 L654.00,275.11 L654.50,275.15 L655.00,275.18 L655.50,275.21 L656.00,275.24 L656.50,275.27 L657.00,275.29 L657.50,275.31 L658.00,275.33 L658.50,275.34 L659.00,275.36 L659.13,275.36 M666.82,275.44 L667.00,275.44 L667.50,275.44 L668.00,275.44 L668.50,275.44 L669.00,275.45 L669.50,275.45 L670.00,275.45 L670.50,275.45 L671.00,275.45 L671.50,275.46 L672.00,275.46 L672.50,275.46 L673.00,275.46 L673.12,275.46 M680.81,275.48 L681.00,275.48 L681.50,275.49 L682.00,275.49 L682.50,275.49 L683.00,275.49 L683.50,275.49 L684.00,275.49 L684.50,275.49 L685.00,275.49 L685.50,275.49 L686.00,275.49 L686.50,275.49 L687.00,275.49 L687.10,275.49 M694.79,275.50 L695.00,275.50 L695.50,275.50 L696.00,275.50 L696.50,275.50 L697.00,275.50 L697.30,275.50" fill="none" stroke="#00ff00" stroke-width="2.35" stroke-linejoin="round"/>
<path d="M438.10,279.60 L464.11,273.00 L479.32,267.30 L490.12,261.50 L498.49,255.60 L505.33,251.30 L511.12,247.20 L516.13,243.40 L520.55,239.80 L524.50,236.60 L525.00,236.18 L525.50,235.75 L526.00,235.31 L526.50,234.87 L527.00,234.42 L527.50,233.96 L528.00,233.48 L528.50,232.99 L529.00,232.50 L529.50,231.99 L530.00,231.48 L530.50,230.96 L531.00,230.45 L531.50,229.93 L532.00,229.41 L532.50,228.89 L533.00,228.36 L533.50,227.83 L534.00,227.30 L534.50,226.78 L535.00,226.25 L535.50,225.73 L536.00,225.21 L536.50,224.69 L537.00,224.18 L537.50,223.67 L538.00,223.16 L538.50,222.66 L539.00,222.15 L539.50,221.65 L540.00,221.16 L540.50,220.66 L541.00,220.17 L541.50,219.69 L542.00,219.20 L542.50,218.72 L543.00,218.25 L543.50,217.78 L544.00,217.31 L544.50,216.84 L545.00,216.37 L545.50,215.91 L546.00,215.45 L546.50,214.99 L547.00,214.53 L547.50,214.07 L548.00,213.61 L548.50,213.15 L549.00,212.70 L549.50,212.24 L550.00,211.78 L550.50,211.33 L551.00,210.89 L551.50,210.44 L552.00,210.01 L552.50,209.59 L553.00,209.18 L553.50,208.78 L554.00,208.39 L554.50,208.02 L555.00,207.67 L555.50,207.32 L556.00,206.99 L556.50,206.67 L557.00,206.37 L557.50,206.07 L558.00,205.78 L558.50,205.50 L559.00,205.22 L559.50,204.95 L560.00,204.68 L560.50,204.42 L561.00,204.16 L561.50,203.90 L562.00,203.65 L562.50,203.40 L563.00,203.15 L563.50,202.91 L564.00,202.67 L564.50,202.44 L565.00,202.21 L565.50,201.99 L566.00,201.78 L566.50,201.57 L567.00,201.38 L567.50,201.19 L568.00,201.01 L568.50,200.84 L569.00,200.68 L569.50,200.54 L570.00,200.41 L570.50,200.30 L571.00,200.20 L571.50,200.12 L572.00,200.05 L572.50,200.01 L573.00,199.97 L573.50,199.95 L574.00,199.95 L574.50,199.95 L575.00,199.97 L575.50,200.00 L576.00,200.04 L576.50,200.10 L577.00,200.17 L577.50,200.25 L578.00,200.35 L578.50,200.46 L579.00,200.60 L579.50,200.75 L580.00,200.93 L580.50,201.12 L581.00,201.33 L581.50,201.56 L582.00,201.81 L582.50,202.08 L583.00,202.36 L583.50,202.66 L584.00,202.97 L584.50,203.30 L585.00,203.65 L585.50,204.00 L586.00,204.37 L586.50,204.75 L587.00,205.15 L587.50,205.55 L588.00,205.96 L588.50,206.37 L589.00,206.80 L589.50,207.23 L590.00,207.66 L590.50,208.10 L591.00,208.55 L591.50,209.00 L592.00,209.47 L592.50,209.94 L593.00,210.42 L593.50,210.92 L594.00,211.43 L594.50,211.96 L595.00,212.50 L595.50,213.07 L596.00,213.65 L596.50,214.26 L597.00,214.88 L597.50,215.52 L598.00,216.18 L598.50,216.85 L599.00,217.54 L599.50,218.24 L600.00,218.96 L600.50,219.68 L601.00,220.41 L601.50,221.14 L602.00,221.88 L602.50,222.62 L603.00,223.37 L603.50,224.12 L604.00,224.86 L604.50,225.61 L605.00,226.35 L605.50,227.09 L606.00,227.82 L606.50,228.55 L607.00,229.27 L607.50,229.99 L608.00,230.70 L608.50,231.42 L609.00,232.13 L609.50,232.85 L610.00,233.58 L610.50,234.32 L611.00,235.08 L611.50,235.85 L612.00,236.65 L612.50,237.46 L613.00,238.30 L613.50,239.15 L614.00,240.01 L614.50,240.88 L615.00,241.75 L615.50,242.62 L616.00,243.47 L616.50,244.31 L617.00,245.13 L617.50,245.94 L618.00,246.72 L618.50,247.48 L619.00,248.23 L619.50,248.95 L620.00,249.66 L620.50,250.36 L621.00,251.04 L621.50,251.71 L622.00,252.37 L622.50,253.02 L623.00,253.66 L623.50,254.28 L624.00,254.90 L624.50,255.50 L625.00,256.08 L625.50,256.65 L626.00,257.20 L626.50,257.73 L627.00,258.24 L627.50,258.74 L628.00,259.22 L628.50,259.68 L629.00,260.12 L629.50,260.55 L630.00,260.97 L630.50,261.37 L631.00,261.76 L631.50,262.14 L632.00,262.50 L632.50,262.86 L633.00,263.20 L633.50,263.54 L634.00,263.87 L634.50,264.19 L635.00,264.49 L635.50,264.79 L636.00,265.08 L636.50,265.36 L637.00,265.62 L637.50,265.88 L638.00,266.12 L638.50,266.35 L639.00,266.57 L639.50,266.78 L640.00,266.98 L640.50,267.17 L641.00,267.35 L641.50,267.53 L642.00,267.69 L642.50,267.85 L643.00,268.01 L643.50,268.16 L644.00,268.31 L644.50,268.46 L645.00,268.60 L645.50,268.74 L646.00,268.88 L646.50,269.01 L647.00,269.14 L647.50,269.27 L648.00,269.40 L648.50,269.52 L649.00,269.63 L649.50,269.74 L650.00,269.84 L650.50,269.93 L651.00,270.02 L651.50,270.10 L652.00,270.17 L652.50,270.23 L653.00,270.29 L653.50,270.35 L654.00,270.40 L654.50,270.44 L655.00,270.49 L655.50,270.53 L656.00,270.56 L656.50,270.60 L657.00,270.63 L657.50,270.66 L658.00,270.69 L658.50,270.72 L659.00,270.74 L659.50,270.77 L660.00,270.79 L660.50,270.81 L661.00,270.83 L661.50,270.84 L662.00,270.86 L662.50,270.87 L663.00,270.89 L663.50,270.90 L664.00,270.91 L664.50,270.92 L665.00,270.93 L665.50,270.94 L666.00,270.95 L666.50,270.96 L667.00,270.97 L667.50,270.97 L668.00,270.98 L668.50,270.99 L669.00,271.00 L669.50,271.00 L670.00,271.01 L670.50,271.01 L671.00,271.02 L671.50,271.02 L672.00,271.03 L672.50,271.04 L673.00,271.04 L673.50,271.05 L674.00,271.05 L674.50,271.05 L675.00,271.06 L675.50,271.06 L676.00,271.07 L676.50,271.07 L677.00,271.08 L677.50,271.08 L678.00,271.08 L678.50,271.09 L679.00,271.09 L679.50,271.10 L680.00,271.10 L680.50,271.10 L681.00,271.11 L681.50,271.11 L682.00,271.11 L682.50,271.12 L683.00,271.12 L683.50,271.13 L684.00,271.13 L684.50,271.13 L685.00,271.14 L685.50,271.14 L686.00,271.14 L686.50,271.15 L687.00,271.15 L687.50,271.15 L688.00,271.16 L688.50,271.16 L689.00,271.16 L689.50,271.16 L690.00,271.17 L690.50,271.17 L691.00,271.17 L691.50,271.18 L692.00,271.18 L692.50,271.18 L693.00,271.18 L693.50,271.18 L694.00,271.19 L694.50,271.19 L695.00,271.19 L695.50,271.19 L696.00,271.19 L696.50,271.19 L697.00,271.20 L697.30,271.20" fill="none" stroke="#00ff00" stroke-width="2.35" stroke-linejoin="round"/>
<path d="M438.10,241.70 L443.86,245.02 M450.91,249.09 L456.67,252.41 M463.72,256.47 L464.11,256.70 L469.90,255.52 M477.50,253.97 L479.32,253.60 L483.40,251.26 M490.44,247.16 L495.92,243.10 M502.56,237.99 L505.33,235.80 L507.86,233.53 M514.14,227.70 L516.13,225.80 L519.11,222.63 M524.96,216.06 L525.00,216.02 L525.50,215.44 L526.00,214.87 L526.50,214.28 L527.00,213.68 L527.50,213.07 L528.00,212.44 L528.50,211.78 L529.00,211.11 L529.50,210.41 L529.53,210.37 M534.60,202.77 L535.00,202.17 L535.50,201.43 L536.00,200.69 L536.50,199.95 L537.00,199.22 L537.50,198.49 L538.00,197.75 L538.50,197.00 L538.78,196.58 M543.67,188.77 L544.00,188.21 L544.50,187.36 L545.00,186.51 L545.50,185.65 L546.00,184.79 L546.50,183.93 L547.00,183.05 L547.49,182.19 M552.10,174.08 L552.50,173.38 L553.00,172.53 L553.50,171.68 L554.00,170.84 L554.50,170.01 L555.00,169.18 L555.50,168.35 L555.98,167.56 M560.69,159.57 L561.00,159.01 L561.50,158.10 L562.00,157.17 L562.50,156.22 L563.00,155.27 L563.50,154.31 L564.00,153.34 L564.29,152.78 M568.62,144.41 L569.00,143.67 L569.50,142.71 L570.00,141.75 L570.50,140.78 L571.00,139.82 L571.50,138.85 L572.00,137.89 L572.17,137.57 M576.80,128.68 L577.00,128.30 L577.50,127.33 L578.00,126.35 L578.50,125.38 L579.00,124.41 L579.50,123.44 L580.00,122.48 L580.50,121.53 L580.56,121.42 M585.48,112.91 L585.50,112.88 L586.00,112.08 L586.50,111.29 L587.00,110.51 L587.50,109.73 L588.00,108.96 L588.50,108.20 L589.00,107.44 L589.50,106.69 L589.78,106.28 M595.26,98.51 L595.50,98.19 L596.00,97.51 L596.50,96.84 L597.00,96.17 L597.50,95.50 L598.00,94.84 L598.50,94.19 L599.00,93.55 L599.50,92.91 L599.90,92.40 M605.91,85.49 L606.00,85.40 L606.50,84.88 L607.00,84.37 L607.50,83.87 L608.00,83.38 L608.50,82.89 L609.00,82.41 L609.50,81.94 L610.00,81.47 L610.50,81.01 L611.00,80.56 L611.14,80.43 M617.70,75.03 L618.00,74.81 L618.50,74.44 L619.00,74.08 L619.50,73.72 L620.00,73.37 L620.50,73.03 L621.00,72.70 L621.50,72.37 L622.00,72.05 L622.50,71.74 L623.00,71.44 L623.21,71.31 M630.08,67.86 L630.50,67.67 L631.00,67.45 L631.50,67.24 L632.00,67.03 L632.50,66.83 L633.00,66.63 L633.50,66.44 L634.00,66.26 L634.50,66.09 L635.00,65.93 L635.50,65.78 L635.70,65.72 M642.50,64.23 L643.00,64.14 L643.50,64.06 L644.00,63.98 L644.50,63.90 L645.00,63.82 L645.50,63.74 L646.00,63.67 L646.50,63.59 L647.00,63.52 L647.50,63.46 L647.73,63.43 M652.49,62.92 L653.00,62.88 L653.50,62.85 L654.00,62.81 L654.50,62.79 L655.00,62.76 L655.50,62.74 L656.00,62.71 L656.50,62.69 L657.00,62.68 L657.50,62.66 L658.00,62.65 L658.27,62.64 M662.62,62.58 L663.00,62.58 L663.50,62.58 L664.00,62.58 L664.50,62.57 L665.00,62.57 L665.50,62.57 L666.00,62.57 L666.50,62.56 L667.00,62.56 L667.50,62.56 L667.88,62.56 M671.81,62.54 L672.00,62.54 L672.50,62.54 L673.00,62.54 L673.50,62.54 L674.00,62.53 L674.50,62.53 L675.00,62.53 L675.50,62.53 L676.00,62.53 L676.43,62.53 M679.81,62.52 L680.00,62.52 L680.50,62.52 L681.00,62.52 L681.50,62.51 L682.00,62.51 L682.50,62.51 L683.00,62.51 L683.50,62.51 L683.87,62.51 M686.94,62.51 L687.00,62.51 L687.50,62.51 L688.00,62.50 L688.50,62.50 L689.00,62.50 L689.50,62.50 L690.00,62.50 L690.50,62.50 L690.63,62.50 M693.42,62.50 L693.50,62.50 L694.00,62.50 L694.50,62.50 L695.00,62.50 L695.50,62.50 L696.00,62.50 L696.50,62.50 L696.78,62.50" fill="none" stroke="#ff0000" stroke-width="2.35" stroke-linejoin="round"/>
<path d="M438.10,286.00 L464.11,284.00 L479.32,282.80 L490.12,281.30 L498.49,279.30 L505.33,277.30 L511.12,274.80 L516.13,272.40 L520.55,270.20 L524.50,268.00 L525.00,267.71 L525.50,267.42 L526.00,267.13 L526.50,266.83 L527.00,266.53 L527.50,266.22 L528.00,265.90 L528.50,265.57 L529.00,265.24 L529.50,264.90 L530.00,264.55 L530.50,264.19 L531.00,263.83 L531.50,263.47 L532.00,263.09 L532.50,262.70 L533.00,262.30 L533.50,261.88 L534.00,261.45 L534.50,261.01 L535.00,260.55 L535.50,260.07 L536.00,259.58 L536.50,259.08 L537.00,258.56 L537.50,258.02 L538.00,257.48 L538.50,256.92 L539.00,256.36 L539.50,255.78 L540.00,255.20 L540.50,254.61 L541.00,254.02 L541.50,253.43 L542.00,252.82 L542.50,252.22 L543.00,251.61 L543.50,251.00 L544.00,250.39 L544.50,249.77 L545.00,249.15 L545.50,248.53 L546.00,247.91 L546.50,247.28 L547.00,246.65 L547.50,246.03 L548.00,245.39 L548.50,244.76 L549.00,244.13 L549.50,243.49 L550.00,242.86 L550.50,242.23 L551.00,241.59 L551.50,240.96 L552.00,240.32 L552.50,239.69 L553.00,239.06 L553.50,238.43 L554.00,237.80 L554.50,237.17 L555.00,236.54 L555.50,235.91 L556.00,235.28 L556.50,234.64 L557.00,234.01 L557.50,233.37 L558.00,232.72 L558.50,232.08 L559.00,231.43 L559.50,230.77 L560.00,230.11 L560.50,229.44 L561.00,228.77 L561.50,228.10 L562.00,227.41 L562.50,226.72 L563.00,226.01 L563.50,225.30 L564.00,224.58 L564.50,223.84 L565.00,223.09 L565.50,222.32 L566.00,221.54 L566.50,220.74 L567.00,219.92 L567.50,219.09 L568.00,218.24 L568.50,217.38 L569.00,216.51 L569.50,215.62 L570.00,214.73 L570.50,213.83 L571.00,212.93 L571.50,212.02 L572.00,211.12 L572.50,210.21 L573.00,209.31 L573.50,208.40 L574.00,207.50 L574.50,206.60 L575.00,205.69 L575.50,204.79 L576.00,203.88 L576.50,202.98 L577.00,202.07 L577.50,201.15 L578.00,200.23 L578.50,199.31 L579.00,198.39 L579.50,197.46 L580.00,196.52 L580.50,195.59 L581.00,194.65 L581.50,193.71 L582.00,192.76 L582.50,191.82 L583.00,190.87 L583.50,189.92 L584.00,188.96 L584.50,188.00 L585.00,187.05 L585.50,186.08 L586.00,185.12 L586.50,184.16 L587.00,183.19 L587.50,182.23 L588.00,181.27 L588.50,180.32 L589.00,179.38 L589.50,178.44 L590.00,177.52 L590.50,176.61 L591.00,175.72 L591.50,174.85 L592.00,173.99 L592.50,173.14 L593.00,172.32 L593.50,171.51 L594.00,170.71 L594.50,169.93 L595.00,169.16 L595.50,168.41 L596.00,167.67 L596.50,166.95 L597.00,166.23 L597.50,165.53 L598.00,164.85 L598.50,164.17 L599.00,163.51 L599.50,162.86 L600.00,162.22 L600.50,161.60 L601.00,160.98 L601.50,160.39 L602.00,159.80 L602.50,159.23 L603.00,158.67 L603.50,158.13 L604.00,157.59 L604.50,157.07 L605.00,156.56 L605.50,156.06 L606.00,155.58 L606.50,155.10 L607.00,154.63 L607.50,154.17 L608.00,153.72 L608.50,153.28 L609.00,152.85 L609.50,152.42 L610.00,152.00 L610.50,151.58 L611.00,151.16 L611.50,150.75 L612.00,150.33 L612.50,149.92 L613.00,149.50 L613.50,149.07 L614.00,148.65 L614.50,148.23 L615.00,147.80 L615.50,147.38 L616.00,146.96 L616.50,146.54 L617.00,146.13 L617.50,145.73 L618.00,145.34 L618.50,144.95 L619.00,144.58 L619.50,144.22 L620.00,143.87 L620.50,143.53 L621.00,143.20 L621.50,142.88 L622.00,142.58 L622.50,142.28 L623.00,141.99 L623.50,141.71 L624.00,141.44 L624.50,141.17 L625.00,140.92 L625.50,140.67 L626.00,140.43 L626.50,140.20 L627.00,139.98 L627.50,139.76 L628.00,139.55 L628.50,139.35 L629.00,139.15 L629.50,138.96 L630.00,138.77 L630.50,138.60 L631.00,138.42 L631.50,138.26 L632.00,138.10 L632.50,137.95 L633.00,137.80 L633.50,137.67 L634.00,137.53 L634.50,137.41 L635.00,137.29 L635.50,137.18 L636.00,137.08 L636.50,136.98 L637.00,136.89 L637.50,136.80 L638.00,136.71 L638.50,136.63 L639.00,136.56 L639.50,136.48 L640.00,136.41 L640.50,136.35 L641.00,136.28 L641.50,136.22 L642.00,136.16 L642.50,136.10 L643.00,136.04 L643.50,135.99 L644.00,135.94 L644.50,135.90 L645.00,135.85 L645.50,135.81 L646.00,135.78 L646.50,135.75 L647.00,135.72 L647.50,135.69 L648.00,135.67 L648.50,135.65 L649.00,135.63 L649.50,135.61 L650.00,135.59 L650.50,135.58 L651.00,135.57 L651.50,135.56 L652.00,135.55 L652.50,135.54 L653.00,135.53 L653.50,135.52 L654.00,135.52 L654.50,135.51 L655.00,135.51 L655.50,135.51 L656.00,135.51 L656.50,135.50 L657.00,135.50 L657.50,135.50 L658.00,135.50 L658.50,135.50 L659.00,135.50 L659.50,135.50 L660.00,135.50 L660.50,135.50 L661.00,135.50 L661.50,135.50 L662.00,135.50 L662.50,135.50 L663.00,135.50 L663.50,135.50 L664.00,135.50 L664.50,135.50 L665.00,135.50 L665.50,135.50 L666.00,135.50 L666.50,135.50 L667.00,135.50 L667.50,135.50 L668.00,135.50 L668.50,135.50 L669.00,135.50 L669.50,135.50 L670.00,135.50 L670.50,135.50 L671.00,135.50 L671.50,135.50 L672.00,135.50 L672.50,135.50 L673.00,135.50 L673.50,135.50 L674.00,135.50 L674.50,135.50 L675.00,135.50 L675.50,135.50 L676.00,135.50 L676.50,135.50 L677.00,135.50 L677.50,135.50 L678.00,135.50 L678.50,135.50 L679.00,135.50 L679.50,135.50 L680.00,135.50 L680.50,135.50 L681.00,135.50 L681.50,135.50 L682.00,135.50 L682.50,135.50 L683.00,135.50 L683.50,135.50 L684.00,135.50 L684.50,135.50 L685.00,135.50 L685.50,135.50 L686.00,135.50 L686.50,135.50 L687.00,135.50 L687.50,135.50 L688.00,135.50 L688.50,135.50 L689.00,135.50 L689.50,135.50 L690.00,135.50 L690.50,135.50 L691.00,135.50 L691.50,135.50 L692.00,135.50 L692.50,135.50 L693.00,135.50 L693.50,135.50 L694.00,135.50 L694.50,135.50 L695.00,135.50 L695.50,135.50 L696.00,135.50 L696.50,135.50 L697.00,135.50 L697.30,135.50" fill="none" stroke="#ff0000" stroke-width="2.35" stroke-linejoin="round"/>
<path d="M438.10,185.20 L443.64,189.12 M450.42,193.91 L455.96,197.83 M462.73,202.63 L464.11,203.60 L468.70,205.11 M476.16,207.56 L479.32,208.60 L482.34,209.05 M489.98,210.18 L490.12,210.20 L496.25,210.86 M503.89,212.05 L505.33,212.30 L510.10,213.37 M517.56,215.78 L520.55,217.00 L523.47,218.62 M530.57,222.49 L531.00,222.76 L531.50,223.08 L532.00,223.41 L532.50,223.75 L533.00,224.09 L533.50,224.44 L534.00,224.80 L534.50,225.16 L535.00,225.52 L535.50,225.89 L536.00,226.25 L536.13,226.35 M542.68,231.65 L543.00,231.94 L543.50,232.41 L544.00,232.89 L544.50,233.38 L545.00,233.88 L545.50,234.38 L546.00,234.89 L546.50,235.40 L547.00,235.91 L547.50,236.42 L547.71,236.63 M553.72,242.94 L554.00,243.25 L554.50,243.82 L555.00,244.39 L555.50,244.97 L556.00,245.56 L556.50,246.15 L557.00,246.75 L557.50,247.36 L558.00,247.97 L558.41,248.47 M563.99,255.42 L564.00,255.43 L564.50,256.05 L565.00,256.66 L565.50,257.28 L566.00,257.88 L566.50,258.49 L567.00,259.10 L567.50,259.70 L568.00,260.31 L568.50,260.91 L568.61,261.05 M574.31,267.84 L574.50,268.07 L575.00,268.64 L575.50,269.22 L576.00,269.79 L576.50,270.35 L577.00,270.91 L577.50,271.46 L578.00,272.01 L578.50,272.56 L579.00,273.11 L579.10,273.21 M585.23,279.32 L585.50,279.55 L586.00,279.97 L586.50,280.37 L587.00,280.75 L587.50,281.13 L588.00,281.48 L588.50,281.83 L589.00,282.16 L589.50,282.48 L590.00,282.79 L590.50,283.08 L590.76,283.24 M598.02,286.54 L598.50,286.70 L599.00,286.86 L599.50,287.02 L600.00,287.16 L600.50,287.31 L601.00,287.44 L601.50,287.57 L602.00,287.70 L602.50,287.82 L603.00,287.94 L603.50,288.06 L604.00,288.17 L604.19,288.20 M611.82,289.44 L612.00,289.46 L612.50,289.52 L613.00,289.58 L613.50,289.63 L614.00,289.68 L614.50,289.73 L615.00,289.77 L615.50,289.81 L616.00,289.85 L616.50,289.88 L617.00,289.91 L617.50,289.93 L618.00,289.95 L618.10,289.95 M625.79,290.07 L626.00,290.07 L626.50,290.07 L627.00,290.08 L627.50,290.08 L628.00,290.08 L628.50,290.09 L629.00,290.09 L629.50,290.10 L630.00,290.10 L630.50,290.10 L631.00,290.11 L631.50,290.11 L632.00,290.11 L632.08,290.11 M639.77,290.16 L640.00,290.16 L640.50,290.17 L641.00,290.17 L641.50,290.17 L642.00,290.18 L642.50,290.18 L643.00,290.18 L643.50,290.18 L644.00,290.19 L644.50,290.19 L645.00,290.19 L645.50,290.19 L646.00,290.20 L646.06,290.20 M653.76,290.23 L654.00,290.23 L654.50,290.23 L655.00,290.24 L655.50,290.24 L656.00,290.24 L656.50,290.24 L657.00,290.24 L657.50,290.24 L658.00,290.25 L658.50,290.25 L659.00,290.25 L659.50,290.25 L660.00,290.25 L660.05,290.25 M667.74,290.27 L668.00,290.27 L668.50,290.27 L669.00,290.27 L669.50,290.28 L670.00,290.28 L670.50,290.28 L671.00,290.28 L671.50,290.28 L672.00,290.28 L672.50,290.28 L673.00,290.28 L673.50,290.28 L674.00,290.28 L674.03,290.28 M681.72,290.29 L682.00,290.29 L682.50,290.29 L683.00,290.29 L683.50,290.29 L684.00,290.30 L684.50,290.30 L685.00,290.30 L685.50,290.30 L686.00,290.30 L686.50,290.30 L687.00,290.30 L687.50,290.30 L688.00,290.30 L688.02,290.30 M695.71,290.30 L696.00,290.30 L696.50,290.30 L697.00,290.30 L697.30,290.30" fill="none" stroke="#0000ff" stroke-width="2.35" stroke-linejoin="round"/>
<path d="M438.10,283.10 L464.11,279.40 L479.32,274.90 L490.12,271.60 L498.49,268.70 L505.33,266.30 L511.12,264.40 L516.13,262.60 L520.55,261.00 L524.50,259.70 L525.00,259.56 L525.50,259.43 L526.00,259.29 L526.50,259.16 L527.00,259.04 L527.50,258.91 L528.00,258.79 L528.50,258.67 L529.00,258.56 L529.50,258.45 L530.00,258.33 L530.50,258.23 L531.00,258.12 L531.50,258.01 L532.00,257.90 L532.50,257.80 L533.00,257.70 L533.50,257.60 L534.00,257.50 L534.50,257.40 L535.00,257.30 L535.50,257.21 L536.00,257.11 L536.50,257.02 L537.00,256.93 L537.50,256.84 L538.00,256.76 L538.50,256.67 L539.00,256.60 L539.50,256.52 L540.00,256.45 L540.50,256.39 L541.00,256.33 L541.50,256.27 L542.00,256.22 L542.50,256.17 L543.00,256.13 L543.50,256.09 L544.00,256.06 L544.50,256.03 L545.00,256.01 L545.50,256.00 L546.00,255.99 L546.50,255.99 L547.00,256.00 L547.50,256.01 L548.00,256.02 L548.50,256.05 L549.00,256.07 L549.50,256.11 L550.00,256.15 L550.50,256.19 L551.00,256.24 L551.50,256.30 L552.00,256.36 L552.50,256.42 L553.00,256.50 L553.50,256.57 L554.00,256.66 L554.50,256.75 L555.00,256.85 L555.50,256.95 L556.00,257.06 L556.50,257.19 L557.00,257.31 L557.50,257.45 L558.00,257.60 L558.50,257.75 L559.00,257.92 L559.50,258.09 L560.00,258.28 L560.50,258.48 L561.00,258.69 L561.50,258.91 L562.00,259.14 L562.50,259.39 L563.00,259.65 L563.50,259.92 L564.00,260.20 L564.50,260.50 L565.00,260.82 L565.50,261.14 L566.00,261.48 L566.50,261.82 L567.00,262.18 L567.50,262.54 L568.00,262.91 L568.50,263.29 L569.00,263.67 L569.50,264.05 L570.00,264.44 L570.50,264.83 L571.00,265.23 L571.50,265.62 L572.00,266.02 L572.50,266.43 L573.00,266.83 L573.50,267.25 L574.00,267.66 L574.50,268.08 L575.00,268.51 L575.50,268.94 L576.00,269.37 L576.50,269.81 L577.00,270.25 L577.50,270.69 L578.00,271.14 L578.50,271.58 L579.00,272.02 L579.50,272.46 L580.00,272.90 L580.50,273.34 L581.00,273.77 L581.50,274.20 L582.00,274.62 L582.50,275.04 L583.00,275.45 L583.50,275.86 L584.00,276.27 L584.50,276.67 L585.00,277.06 L585.50,277.46 L586.00,277.85 L586.50,278.24 L587.00,278.62 L587.50,279.01 L588.00,279.38 L588.50,279.75 L589.00,280.12 L589.50,280.48 L590.00,280.83 L590.50,281.18 L591.00,281.51 L591.50,281.84 L592.00,282.15 L592.50,282.46 L593.00,282.75 L593.50,283.04 L594.00,283.31 L594.50,283.58 L595.00,283.84 L595.50,284.08 L596.00,284.32 L596.50,284.55 L597.00,284.78 L597.50,285.00 L598.00,285.21 L598.50,285.41 L599.00,285.61 L599.50,285.80 L600.00,285.99 L600.50,286.17 L601.00,286.34 L601.50,286.50 L602.00,286.66 L602.50,286.82 L603.00,286.96 L603.50,287.10 L604.00,287.23 L604.50,287.36 L605.00,287.48 L605.50,287.60 L606.00,287.71 L606.50,287.82 L607.00,287.92 L607.50,288.02 L608.00,288.12 L608.50,288.21 L609.00,288.30 L609.50,288.39 L610.00,288.47 L610.50,288.55 L611.00,288.63 L611.50,288.70 L612.00,288.78 L612.50,288.85 L613.00,288.92 L613.50,288.98 L614.00,289.04 L614.50,289.10 L615.00,289.16 L615.50,289.22 L616.00,289.27 L616.50,289.31 L617.00,289.36 L617.50,289.40 L618.00,289.44 L618.50,289.48 L619.00,289.51 L619.50,289.54 L620.00,289.57 L620.50,289.60 L621.00,289.63 L621.50,289.65 L622.00,289.68 L622.50,289.70 L623.00,289.72 L623.50,289.74 L624.00,289.76 L624.50,289.78 L625.00,289.80 L625.50,289.82 L626.00,289.83 L626.50,289.85 L627.00,289.87 L627.50,289.88 L628.00,289.89 L628.50,289.91 L629.00,289.92 L629.50,289.93 L630.00,289.94 L630.50,289.95 L631.00,289.96 L631.50,289.97 L632.00,289.98 L632.50,289.99 L633.00,289.99 L633.50,290.00 L634.00,290.00 L634.50,290.01 L635.00,290.02 L635.50,290.02 L636.00,290.03 L636.50,290.03 L637.00,290.04 L637.50,290.04 L638.00,290.04 L638.50,290.05 L639.00,290.05 L639.50,290.06 L640.00,290.06 L640.50,290.07 L641.00,290.07 L641.50,290.08 L642.00,290.08 L642.50,290.08 L643.00,290.09 L643.50,290.09 L644.00,290.10 L644.50,290.10 L645.00,290.10 L645.50,290.11 L646.00,290.11 L646.50,290.11 L647.00,290.12 L647.50,290.12 L648.00,290.13 L648.50,290.13 L649.00,290.13 L649.50,290.14 L650.00,290.14 L650.50,290.14 L651.00,290.15 L651.50,290.15 L652.00,290.15 L652.50,290.16 L653.00,290.16 L653.50,290.16 L654.00,290.17 L654.50,290.17 L655.00,290.17 L655.50,290.18 L656.00,290.18 L656.50,290.18 L657.00,290.18 L657.50,290.19 L658.00,290.19 L658.50,290.19 L659.00,290.20 L659.50,290.20 L660.00,290.20 L660.50,290.20 L661.00,290.21 L661.50,290.21 L662.00,290.21 L662.50,290.21 L663.00,290.22 L663.50,290.22 L664.00,290.22 L664.50,290.22 L665.00,290.23 L665.50,290.23 L666.00,290.23 L666.50,290.23 L667.00,290.24 L667.50,290.24 L668.00,290.24 L668.50,290.24 L669.00,290.24 L669.50,290.25 L670.00,290.25 L670.50,290.25 L671.00,290.25 L671.50,290.25 L672.00,290.26 L672.50,290.26 L673.00,290.26 L673.50,290.26 L674.00,290.26 L674.50,290.26 L675.00,290.27 L675.50,290.27 L676.00,290.27 L676.50,290.27 L677.00,290.27 L677.50,290.27 L678.00,290.27 L678.50,290.28 L679.00,290.28 L679.50,290.28 L680.00,290.28 L680.50,290.28 L681.00,290.28 L681.50,290.28 L682.00,290.28 L682.50,290.28 L683.00,290.29 L683.50,290.29 L684.00,290.29 L684.50,290.29 L685.00,290.29 L685.50,290.29 L686.00,290.29 L686.50,290.29 L687.00,290.29 L687.50,290.29 L688.00,290.29 L688.50,290.29 L689.00,290.29 L689.50,290.30 L690.00,290.30 L690.50,290.30 L691.00,290.30 L691.50,290.30 L692.00,290.30 L692.50,290.30 L693.00,290.30 L693.50,290.30 L694.00,290.30 L694.50,290.30 L695.00,290.30 L695.50,290.30 L696.00,290.30 L696.50,290.30 L697.00,290.30 L697.30,290.30" fill="none" stroke="#0000ff" stroke-width="2.35" stroke-linejoin="round"/>
<g transform="translate(51.18,297.70) scale(0.00572,-0.00806)"><use href="#g0" x="0"/></g>
<g transform="translate(34.90,250.42) scale(0.00572,-0.00806)"><use href="#g0" x="0"/><use href="#gd" x="1139"/><use href="#g0" x="1708"/><use href="#g5" x="2847"/></g>
<g transform="translate(41.41,203.14) scale(0.00572,-0.00806)"><use href="#g0" x="0"/><use href="#gd" x="1139"/><use href="#g1" x="1708"/></g>
<g transform="translate(34.90,155.86) scale(0.00572,-0.00806)"><use href="#g0" x="0"/><use href="#gd" x="1139"/><use href="#g1" x="1708"/><use href="#g5" x="2847"/></g>
<g transform="translate(41.41,108.58) scale(0.00572,-0.00806)"><use href="#g0" x="0"/><use href="#gd" x="1139"/><use href="#g2" x="1708"/></g>
<g transform="translate(34.90,61.30) scale(0.00572,-0.00806)"><use href="#g0" x="0"/><use href="#gd" x="1139"/><use href="#g2" x="1708"/><use href="#g5" x="2847"/></g>
<g transform="translate(41.41,14.02) scale(0.00572,-0.00806)"><use href="#g0" x="0"/><use href="#gd" x="1139"/><use href="#g3" x="1708"/></g>
<g transform="translate(53.12,318.60) scale(0.00607,-0.00854)"><use href="#g1" x="0"/><use href="#g0" x="1139"/></g>
<g transform="translate(66.94,310.40) scale(0.00433,-0.00610)"><use href="#g0" x="0"/></g>
<g transform="translate(140.52,318.60) scale(0.00607,-0.00854)"><use href="#g1" x="0"/><use href="#g0" x="1139"/></g>
<g transform="translate(154.34,310.40) scale(0.00433,-0.00610)"><use href="#g1" x="0"/></g>
<g transform="translate(227.92,318.60) scale(0.00607,-0.00854)"><use href="#g1" x="0"/><use href="#g0" x="1139"/></g>
<g transform="translate(241.74,310.40) scale(0.00433,-0.00610)"><use href="#g2" x="0"/></g>
<g transform="translate(315.32,318.60) scale(0.00607,-0.00854)"><use href="#g1" x="0"/><use href="#g0" x="1139"/></g>
<g transform="translate(329.14,310.40) scale(0.00433,-0.00610)"><use href="#g3" x="0"/></g>
<text transform="translate(158.60,341.8) scale(0.773,1)" font-size="17.6">Time (days)</text>
<text transform="translate(11.80,152.1) rotate(-90) scale(1,0.78)" text-anchor="middle" font-size="18.2">Proportion of mosquito</text>
<text transform="translate(28.90,149.3) rotate(-90) scale(1,0.78)" text-anchor="middle" font-size="18.2">populations</text>
<g transform="translate(426.58,297.70) scale(0.00572,-0.00806)"><use href="#g0" x="0"/></g>
<g transform="translate(410.30,250.42) scale(0.00572,-0.00806)"><use href="#g0" x="0"/><use href="#gd" x="1139"/><use href="#g0" x="1708"/><use href="#g5" x="2847"/></g>
<g transform="translate(416.81,203.14) scale(0.00572,-0.00806)"><use href="#g0" x="0"/><use href="#gd" x="1139"/><use href="#g1" x="1708"/></g>
<g transform="translate(410.30,155.86) scale(0.00572,-0.00806)"><use href="#g0" x="0"/><use href="#gd" x="1139"/><use href="#g1" x="1708"/><use href="#g5" x="2847"/></g>
<g transform="translate(416.81,108.58) scale(0.00572,-0.00806)"><use href="#g0" x="0"/><use href="#gd" x="1139"/><use href="#g2" x="1708"/></g>
<g transform="translate(410.30,61.30) scale(0.00572,-0.00806)"><use href="#g0" x="0"/><use href="#gd" x="1139"/><use href="#g2" x="1708"/><use href="#g5" x="2847"/></g>
<g transform="translate(416.81,14.02) scale(0.00572,-0.00806)"><use href="#g0" x="0"/><use href="#gd" x="1139"/><use href="#g3" x="1708"/></g>
<g transform="translate(428.52,318.60) scale(0.00607,-0.00854)"><use href="#g1" x="0"/><use href="#g0" x="1139"/></g>
<g transform="translate(442.34,310.40) scale(0.00433,-0.00610)"><use href="#g0" x="0"/></g>
<g transform="translate(514.92,318.60) scale(0.00607,-0.00854)"><use href="#g1" x="0"/><use href="#g0" x="1139"/></g>
<g transform="translate(528.74,310.40) scale(0.00433,-0.00610)"><use href="#g1" x="0"/></g>
<g transform="translate(601.32,318.60) scale(0.00607,-0.00854)"><use href="#g1" x="0"/><use href="#g0" x="1139"/></g>
<g transform="translate(615.14,310.40) scale(0.00433,-0.00610)"><use href="#g2" x="0"/></g>
<g transform="translate(687.72,318.60) scale(0.00607,-0.00854)"><use href="#g1" x="0"/><use href="#g0" x="1139"/></g>
<g transform="translate(701.54,310.40) scale(0.00433,-0.00610)"><use href="#g3" x="0"/></g>
<text transform="translate(534.00,341.8) scale(0.773,1)" font-size="17.6">Time (days)</text>
<text transform="translate(387.20,152.1) rotate(-90) scale(1,0.78)" text-anchor="middle" font-size="18.2">Proportion of mosquito</text>
<text transform="translate(404.30,149.3) rotate(-90) scale(1,0.78)" text-anchor="middle" font-size="18.2">populations</text>
<path d="M452.8,18.9 H459.7 M466.7,18.9 H473.5" stroke="#00ff00" stroke-width="2.4"/>
<text transform="translate(481.2,21.8) scale(0.777,1)" font-size="11.5">Uninfected Aquatic</text>
<path d="M452.8,35.4 H479" stroke="#00ff00" stroke-width="2.4"/>
<text transform="translate(481.2,38.7) scale(0.777,1)" font-size="11.5">Uninfected Adult</text>
<path d="M452.8,55.3 H459.7 M466.7,55.3 H473.5" stroke="#ff0000" stroke-width="2.4"/>
<text transform="translate(481.2,56.0) scale(0.786,1)" font-size="11.5">w<tspan dy="5.6" font-size="10.5">1</tspan><tspan dy="-5.6">-infected Aquatic</tspan></text>
<path d="M452.8,77.4 H479" stroke="#ff0000" stroke-width="2.4"/>
<text transform="translate(481.2,78.4) scale(0.786,1)" font-size="11.5">w<tspan dy="5.6" font-size="10.5">1</tspan><tspan dy="-5.6">-infected Adult</tspan></text>
<path d="M452.8,99.9 H459.7 M466.7,99.9 H473.5" stroke="#0000ff" stroke-width="2.4"/>
<text transform="translate(481.2,100.9) scale(0.786,1)" font-size="11.5">w<tspan dy="5.6" font-size="10.5">2</tspan><tspan dy="-5.6">-infected Aquatic</tspan></text>
<path d="M452.8,122.5 H479" stroke="#0000ff" stroke-width="2.4"/>
<text transform="translate(481.2,123.3) scale(0.786,1)" font-size="11.5">w<tspan dy="5.6" font-size="10.5">2</tspan><tspan dy="-5.6">-infected Adult</tspan></text>
<text x="3" y="339.6" font-family="Liberation Serif, serif" font-weight="bold" font-size="16" fill="#000">(a)</text>
<text x="378.6" y="339.6" font-family="Liberation Serif, serif" font-weight="bold" font-size="16" fill="#000">(b)</text>
</g>
</svg>
</body></html>
